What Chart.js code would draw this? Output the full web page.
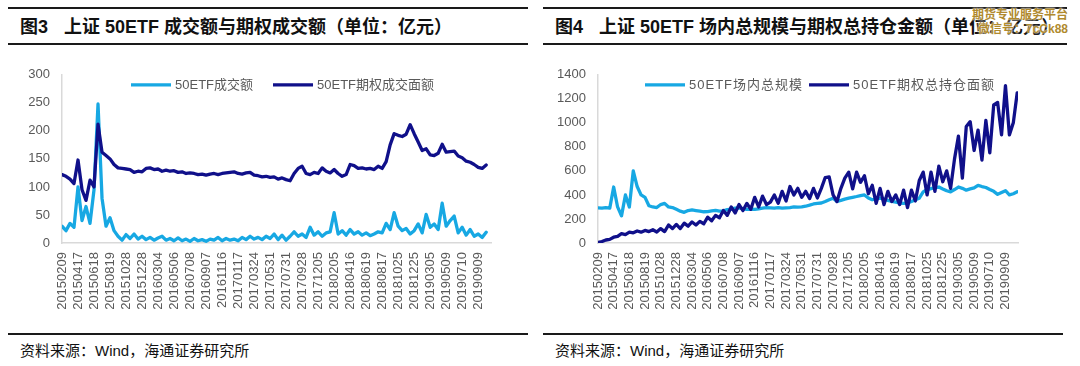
<!DOCTYPE html>
<html><head><meta charset="utf-8">
<script src="https://cdn.jsdelivr.net/npm/chart.js@4.4.1/dist/chart.umd.min.js"></script>
<style>
html,body{margin:0;padding:0;background:#fff;}
body{width:1080px;height:366px;position:relative;overflow:hidden;font-family:"Liberation Sans","Noto Sans CJK SC",sans-serif;}
.rule{position:absolute;height:2px;background:#1a1a1a;}
.title{position:absolute;font-weight:bold;font-size:18px;line-height:20px;color:#111;white-space:nowrap;}
.title .gap{display:inline-block;width:16px;}
.src{position:absolute;font-size:15px;line-height:18px;color:#111;white-space:nowrap;}
canvas{position:absolute;}
.wm{position:absolute;font-size:12px;line-height:13px;font-weight:bold;color:#B08A2E;white-space:nowrap;text-shadow:0 0 2px #fff,0 0 2px #fff;}
</style></head>
<body>
<div class="rule" style="left:8px;top:7px;width:520px"></div>
<div class="title" style="left:20px;top:17px">图3<span class="gap"></span>上证 50ETF 成交额与期权成交额（单位：亿元）</div>
<div class="rule" style="left:8px;top:43px;width:520px"></div>
<canvas id="c1" width="535" height="275" style="left:0;top:55px;width:535px;height:275px"></canvas>
<div class="rule" style="left:8px;top:333px;width:520px"></div>
<div class="src" style="left:20px;top:342px">资料来源：Wind，海通证券研究所</div>

<div class="rule" style="left:543px;top:7px;width:524px"></div>
<div class="title" style="left:555px;top:17px">图4<span class="gap"></span>上证 50ETF 场内总规模与期权总持仓金额（单位：亿元）</div>
<div class="rule" style="left:543px;top:43px;width:524px"></div>
<canvas id="c2" width="540" height="275" style="left:540px;top:55px;width:540px;height:275px"></canvas>
<div class="rule" style="left:543px;top:333px;width:520px"></div>
<div class="src" style="left:555px;top:342px">资料来源：Wind，海通证券研究所</div>

<div class="wm" style="left:972px;top:9px">期货专业服务平台</div>
<div class="wm" style="left:978px;top:23px">微信号：7cCk88</div>

<script>
// ---- data ----
const tickLabels = ['20150209','20150417','20150618','20150819','20151028','20151228','20160304','20160506','20160708','20160907','20161116','20170117','20170324','20170531','20170731','20170928','20171205','20180205','20180416','20180619','20180817','20181025','20181225','20190305','20190509','20190710','20190909'];
const STEP = 0.25; // data points per tick interval: 4

const etfVolume = [30,22,35,28,100,40,65,35,95,248,80,30,45,22,12,5,15,8,16,7,12,6,10,5,9,12,5,8,4,9,4,7,3,8,4,6,3,7,5,10,4,8,5,7,4,10,6,12,7,10,6,12,8,16,6,14,5,12,20,12,16,10,28,14,20,12,18,20,54,16,22,14,24,16,20,14,18,13,16,20,18,35,24,54,30,22,26,16,22,34,18,51,28,34,24,71,30,40,48,18,28,14,24,12,16,10,19];
const optionNotional = [122,119,114,106,148,95,76,112,100,212,162,156,150,140,134,133,132,131,126,128,127,133,134,131,132,128,130,128,129,126,127,124,125,124,122,123,121,123,124,122,124,125,126,127,124,123,125,126,121,120,118,119,117,118,114,116,113,111,124,133,137,124,122,126,124,134,128,125,131,124,119,122,140,138,133,134,132,133,131,137,133,145,175,195,192,190,194,211,195,180,165,168,157,156,160,176,162,163,164,155,152,146,144,140,135,133,139];

const etfScale = [293,290,295,290,466,300,226,400,300,600,470,400,380,310,300,295,320,330,300,295,280,265,255,270,275,270,265,260,262,268,272,265,268,278,282,290,293,285,280,283,280,285,290,295,293,290,295,290,293,295,300,298,300,306,315,325,330,333,345,360,373,346,355,365,373,380,387,395,400,375,360,368,373,365,355,346,340,333,330,333,345,360,373,426,445,453,460,466,450,435,426,445,466,455,440,450,458,480,470,462,445,430,405,420,435,400,410,426];
const optionOpenInterest = [5,12,25,30,48,55,78,70,90,85,100,90,105,95,110,92,120,95,150,120,155,120,165,140,175,150,180,160,215,185,230,210,270,230,300,250,320,270,330,280,380,300,390,320,340,400,330,430,350,470,400,455,380,430,370,455,375,455,545,550,400,345,455,540,590,450,590,505,560,410,480,330,455,320,430,345,400,320,440,295,440,350,520,590,400,590,430,640,510,600,455,700,890,540,970,1010,770,940,690,1020,750,1150,1170,900,1310,900,1000,1250];

const LIGHT = '#17A8E3';
const DARK = '#10108A';
const TICK_COLOR = '#595959';
const FONT = '"Liberation Sans", Arial, "Noto Sans CJK SC", sans-serif';

const toPoints = arr => arr.map((v, i) => ({x: i * STEP, y: v}));

const lineLegend = {
  id: 'lineLegend',
  afterDraw(chart, args, o) {
    const ctx = chart.ctx;
    ctx.save();
    ctx.font = o.font;
    if ('letterSpacing' in ctx) ctx.letterSpacing = o.letterSpacing || '0px';
    ctx.textBaseline = 'middle';
    ctx.textAlign = 'left';
    let x = o.x;
    const y = chart.chartArea.top + o.dy;
    chart.data.datasets.forEach(ds => {
      ctx.strokeStyle = ds.borderColor;
      ctx.lineWidth = ds.borderWidth;
      ctx.beginPath(); ctx.moveTo(x, y); ctx.lineTo(x + o.lineLength, y); ctx.stroke();
      x += o.lineLength + o.textGap;
      ctx.fillStyle = o.color;
      ctx.fillText(ds.label, x, y + 1);
      x += ctx.measureText(ds.label).width + o.itemGap;
    });
    ctx.restore();
  }
};

function makeChart(id, datasets, yMax, yStep, yWidth, pad, legendOpts) {
  return new Chart(document.getElementById(id), {
    type: 'line',
    data: {datasets},
    plugins: [lineLegend],
    options: {
      responsive: false,
      animation: false,
      devicePixelRatio: 1,
      layout: {padding: pad},
      elements: {point: {radius: 0}, line: {tension: 0, borderJoinStyle: 'round', borderCapStyle: 'round'}},
      plugins: {legend: {display: false}, tooltip: {enabled: false}, lineLegend: legendOpts},
      scales: {
        x: {
          type: 'linear', min: 0, max: 26.8,
          grid: {display: false, drawTicks: false},
          border: {display: true, color: '#D9D9D9', width: 1.5},
          afterBuildTicks: s => { s.ticks = tickLabels.map((_, i) => ({value: i})); },
          afterFit: s => { s.height = 80; },
          ticks: {
            autoSkip: false, minRotation: 90, maxRotation: 90, padding: 9,
            color: TICK_COLOR, font: {family: FONT, size: 13},
            callback: v => tickLabels[v] || ''
          }
        },
        y: {
          min: 0, max: yMax,
          grid: {display: false, drawTicks: false},
          border: {display: true, color: '#D9D9D9', width: 1.5},
          afterFit: s => { s.width = yWidth; },
          ticks: {stepSize: yStep, padding: 12, color: TICK_COLOR, font: {family: FONT, size: 13},
            callback: v => String(v)}
        }
      }
    }
  });
}

makeChart('c1', [
  {label: '50ETF成交额', data: toPoints(etfVolume), borderColor: LIGHT, backgroundColor: LIGHT, borderWidth: 3.3, order: 1},
  {label: '50ETF期权成交面额', data: toPoints(optionNotional), borderColor: DARK, backgroundColor: DARK, borderWidth: 3.3, order: 0}
], 300, 50, 62, {top: 13, right: 44, bottom: 7, left: 0},
{x: 131, dy: 10, lineLength: 40, textGap: 4, itemGap: 20, color: '#595959', font: '13px ' + FONT});

makeChart('c2', [
  {label: '50ETF场内总规模', data: toPoints(etfScale), borderColor: LIGHT, backgroundColor: LIGHT, borderWidth: 3.3, order: 1},
  {label: '50ETF期权总持仓面额', data: toPoints(optionOpenInterest), borderColor: DARK, backgroundColor: DARK, borderWidth: 3.3, order: 0}
], 1400, 200, 58, {top: 13, right: 62, bottom: 7, left: 0},
{x: 105, dy: 10, lineLength: 40, textGap: 4, itemGap: 6, color: '#595959', font: '13px ' + FONT, letterSpacing: '1px'});
</script>
</body></html>
